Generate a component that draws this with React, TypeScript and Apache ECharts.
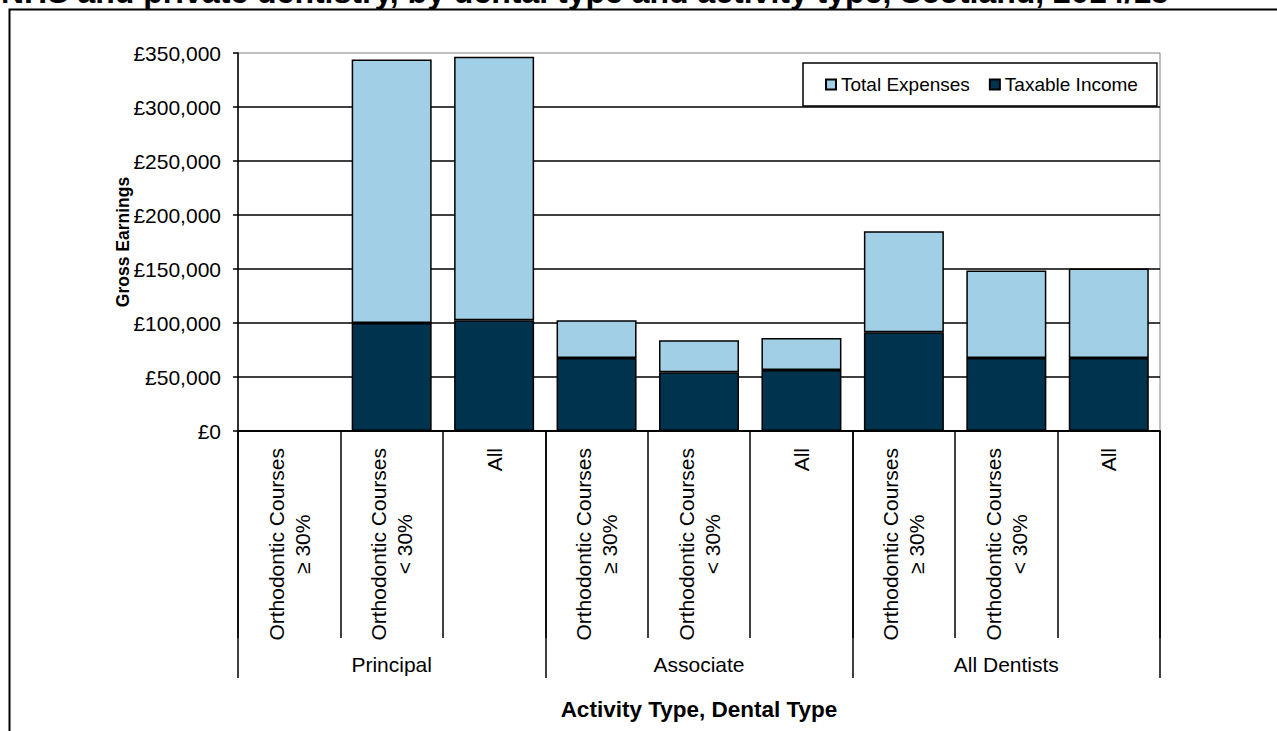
import React, { useEffect, useRef } from "react";
import * as echarts from "echarts";

const chartTitle =
  "NHS and private dentistry, by dental type and activity type, Scotland, 2014/15";
const dentalTypes = [
  "Orthodontic Courses\n≥ 30%",
  "Orthodontic Courses\n< 30%",
  "All",
  "Orthodontic Courses\n≥ 30%",
  "Orthodontic Courses\n< 30%",
  "All",
  "Orthodontic Courses\n≥ 30%",
  "Orthodontic Courses\n< 30%",
  "All",
];
const activityTypes = ["Principal", "Associate", "All Dentists"];
const taxableIncome = [null, 100000, 102500, 67500, 54500, 56500, 91500, 67500, 67500];
const totalExpenses = [null, 244000, 244000, 35000, 29500, 29500, 93500, 81000, 83000];
const yMin = 0;
const yMax = 350000;
const yStep = 50000;

const FONT = '"Liberation Sans", Arial, sans-serif';

export default function App() {
  const ref = useRef<HTMLDivElement>(null);
  useEffect(() => {
    if (!ref.current) return;
    const chart = echarts.init(ref.current, null, { renderer: "svg" });
    const grid = {
      left: 238,
      top: 53,
      width: 922,
      height: 378,
      outerBoundsMode: "none",
      containLabel: false,
    };
    chart.setOption({
      animation: false,
      backgroundColor: "#fff",
      textStyle: { fontFamily: FONT },
      graphic: [
        {
          type: "rect",
          z: -1,
          shape: { x: 9.5, y: 9.5, width: 1400, height: 1000 },
          style: { fill: "none", stroke: "#000", lineWidth: 2 },
        },
        {
          type: "text",
          x: 1,
          y: -8,
          style: {
            text: chartTitle,
            font: `bold 32px ${FONT}`,
            fill: "#000",
            textVerticalAlign: "middle",
          },
        },
      ],
      legend: {
        left: 803,
        top: 63,
        data: ["Total Expenses", "Taxable Income"],
        icon: "rect",
        itemWidth: 10,
        itemHeight: 10,
        itemGap: 19,
        padding: [12, 19, 12, 22],
        borderColor: "#000",
        borderWidth: 1.5,
        backgroundColor: "#fff",
        textStyle: { fontSize: 19, color: "#000", fontFamily: FONT, lineHeight: 19 },
      },
      grid: [
        { ...grid, show: true, borderColor: "#808080", borderWidth: 1 },
        { ...grid, show: false },
      ],
      xAxis: [
        {
          type: "category",
          gridIndex: 0,
          data: dentalTypes,
          axisLine: { lineStyle: { color: "#000", width: 1.5 } },
          axisTick: { show: true, interval: 0, length: 207, lineStyle: { color: "#000", width: 1.5 } },
          axisLabel: {
            interval: 0,
            rotate: 90,
            margin: 17,
            color: "#000",
            fontSize: 21,
            fontFamily: FONT,
            lineHeight: 26,
            formatter: (v: string) =>
              v
                .split("\n")
                .map((s) => `{c|${s}}`)
                .join("\n"),
            rich: {
              c: { align: "center", fontSize: 21, fontFamily: FONT, color: "#000", lineHeight: 26 },
            },
          },
        },
        {
          type: "category",
          gridIndex: 1,
          data: activityTypes,
          axisLine: { lineStyle: { color: "#000", width: 1.5 } },
          axisTick: { show: true, interval: 0, length: 247, lineStyle: { color: "#000", width: 1.5 } },
          axisLabel: { interval: 0, margin: 223, color: "#000", fontSize: 21, fontFamily: FONT },
          name: "Activity Type, Dental Type",
          nameLocation: "middle",
          nameGap: 267,
          nameMoveOverlap: false,
          nameTextStyle: { fontSize: 22.5, fontWeight: "bold", color: "#000", fontFamily: FONT },
        },
      ],
      yAxis: [
        {
          type: "value",
          gridIndex: 0,
          min: yMin,
          max: yMax,
          interval: yStep,
          axisLine: { show: true, lineStyle: { color: "#000", width: 1.5 } },
          axisTick: { show: true, length: 5, lineStyle: { color: "#000", width: 1.5 } },
          splitLine: { show: true, showMaxLine: false, lineStyle: { color: "#000", width: 1.5 } },
          axisLabel: {
            margin: 17,
            color: "#000",
            fontSize: 21,
            fontFamily: FONT,
            formatter: (v: number) => "£" + v.toLocaleString("en-GB"),
          },
          name: "Gross Earnings",
          nameLocation: "middle",
          nameRotate: 90,
          nameGap: 106,
          nameMoveOverlap: false,
          nameTextStyle: { fontSize: 17.5, fontWeight: "bold", color: "#000", fontFamily: FONT },
        },
        { type: "value", gridIndex: 1, show: false, min: yMin, max: yMax },
      ],
      series: [
        {
          name: "Taxable Income",
          type: "bar",
          stack: "earnings",
          xAxisIndex: 0,
          yAxisIndex: 0,
          data: taxableIncome,
          barWidth: 80,
          itemStyle: { color: "#00334E", borderColor: "#000", borderWidth: 1.5 },
        },
        {
          name: "Total Expenses",
          type: "bar",
          stack: "earnings",
          xAxisIndex: 0,
          yAxisIndex: 0,
          data: totalExpenses,
          barWidth: 80,
          itemStyle: { color: "#A1CFE5", borderColor: "#000", borderWidth: 1.5 },
        },
      ],
    });
    return () => chart.dispose();
  }, []);
  return (
    <div
      ref={ref}
      style={{ position: "absolute", left: 0, top: 0, width: 1277, height: 731 }}
    />
  );
}
